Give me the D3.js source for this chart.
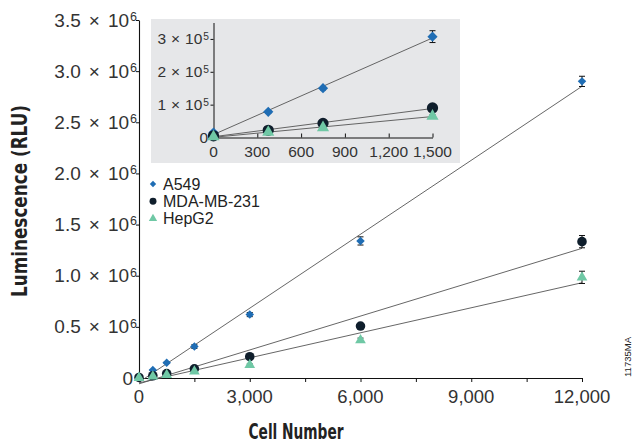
<!DOCTYPE html>
<html>
<head>
<meta charset="UTF-8">
<script src="https://d3js.org/d3.v7.min.js"></script>
<style>
  body { margin: 0; background: #fff; }
  text { font-family: "Liberation Sans", Arial, sans-serif; }
  .tick-label { fill: #333; }
  .title { font-family: "Liberation Sans Narrow", "DejaVu Sans Condensed", sans-serif; font-weight: bold; fill: #222; }
</style>
</head>
<body>
<svg width="637" height="444"></svg>
<script>
// cell numbers per well
const cells = [0, 375, 750, 1500, 3000, 6000, 12000];
// luminescence (RLU)
const a549 = [15000, 78000, 150000, 307000, 620000, 1340000, 2900000];
const mda = [5000, 22000, 43000, 90000, 208000, 508000, 1333000];
const hepg2 = [2000, 16000, 30000, 65000, 127000, 370000, 984000];
// standard deviations
const a549Err = [2000, 4000, 5000, 18000, 20000, 40000, 50000];
const mdaErr = [1000, 2000, 3000, 5000, 10000, 20000, 60000];
const hepg2Err = [1000, 2000, 3000, 4000, 10000, 20000, 60000];

const seriesNames = ["A549", "MDA-MB-231", "HepG2"];
const colors = ["#1f6db4", "#0f1e2c", "#6fc8a5"];
const shapes = [d3.symbolSquare, d3.symbolCircle, d3.symbolTriangle];

const mainXTicks = [0, 1500, 3000, 4500, 6000, 7500, 9000, 10500, 12000];
const mainXLabels = [0, 3000, 6000, 9000, 12000];
const mainYTicks = [0, 0.5e6, 1e6, 1.5e6, 2e6, 2.5e6, 3e6, 3.5e6];
const insetXTicks = [0, 300, 600, 900, 1200, 1500];
const insetYTicks = [0, 1e5, 2e5, 3e5];

const series = seriesNames.map((name, i) => ({
  name: name,
  color: colors[i],
  shape: shapes[i],
  values: [a549, mda, hepg2][i],
  errs: [a549Err, mdaErr, hepg2Err][i]
}));

const svg = d3.select("svg");
const fmt = d3.format(",");

// least squares line
function fit(xs, ys) {
  const mx = d3.mean(xs), my = d3.mean(ys);
  let sxy = 0, sxx = 0;
  xs.forEach((x, i) => { sxy += (x - mx) * (ys[i] - my); sxx += (x - mx) * (x - mx); });
  const slope = sxy / sxx;
  return { slope: slope, intercept: my - slope * mx };
}

// label like "2.5 × 10^6", gap = space around the ×
function sciLabel(sel, mant, exp, gap) {
  sel.append("tspan").text(mant);
  sel.append("tspan").attr("dx", gap).text("\u00d7");
  sel.append("tspan").attr("dx", gap).text("10");
  sel.append("tspan").attr("dx", 1).attr("dy", "-0.45em").attr("font-size", "0.66em").text(exp);
}

function marker(g, s, x, y, size) {
  g.append("path")
    .attr("d", d3.symbol().type(s.shape).size(size)())
    .attr("transform", `translate(${x},${y})` + (s.shape === d3.symbolSquare ? " rotate(45)" : ""))
    .attr("fill", s.color);
}

function drawPlot(g, x, y, nPts, sizes) {
  // fit lines
  series.forEach(s => {
    const xs = cells.slice(0, nPts), ys = s.values.slice(0, nPts);
    const f = fit(xs, ys);
    const x0 = xs[0], x1 = xs[xs.length - 1];
    g.append("line")
      .attr("x1", x(x0)).attr("y1", y(f.intercept + f.slope * x0))
      .attr("x2", x(x1)).attr("y2", y(f.intercept + f.slope * x1))
      .attr("stroke", "#555").attr("stroke-width", 0.9);
  });
  // error bars
  series.forEach(s => {
    for (let i = 0; i < nPts; i++) {
      const cx = x(cells[i]);
      const top = y(s.values[i] + s.errs[i]), bot = y(s.values[i] - s.errs[i]);
      g.append("line").attr("x1", cx).attr("x2", cx).attr("y1", top).attr("y2", bot)
        .attr("stroke", "#111").attr("stroke-width", 1);
      [top, bot].forEach(yy => g.append("line")
        .attr("x1", cx - 3).attr("x2", cx + 3).attr("y1", yy).attr("y2", yy)
        .attr("stroke", "#111").attr("stroke-width", 1));
    }
  });
  // markers
  series.forEach((s, k) => {
    for (let i = 0; i < nPts; i++) marker(g, s, x(cells[i]), y(s.values[i]), sizes[k]);
  });
}

// ---------- main chart ----------
const x = d3.scaleLinear().domain([0, 12000]).range([139, 582]);
const y = d3.scaleLinear().domain([0, 3.5e6]).range([378, 20]);

const main = svg.append("g");

const xAxis = main.append("g").attr("transform", `translate(0,${y(0)})`)
  .call(d3.axisBottom(x).tickValues(mainXTicks).tickSize(4).tickSizeOuter(0).tickFormat(""));
const yAxis = main.append("g").attr("transform", `translate(${x(0)},0)`)
  .call(d3.axisLeft(y).tickValues(mainYTicks).tickSize(3).tickSizeOuter(0).tickFormat(""));
[xAxis, yAxis].forEach(a => {
  a.select(".domain").attr("stroke", "#111").attr("stroke-width", 1.1);
  a.selectAll(".tick line").attr("stroke", "#111");
});

main.selectAll(".xl").data(mainXLabels).enter().append("text")
  .attr("class", "tick-label")
  .attr("x", d => x(d)).attr("y", 403)
  .attr("text-anchor", "middle").attr("font-size", 18.5)
  .text(d => fmt(d));

main.selectAll(".yl").data(mainYTicks).enter().append("text")
  .attr("class", "tick-label")
  .attr("x", 137).attr("y", d => y(d) + 6.5)
  .attr("text-anchor", "end").attr("font-size", 19)
  .each(function(d) {
    const t = d3.select(this);
    if (d === 0) t.attr("x", 133).text("0");
    else sciLabel(t, (d / 1e6).toFixed(1), "6", 8);
  });

// ---------- inset ----------
const inset = svg.append("g");
inset.append("rect").attr("x", 151).attr("y", 19).attr("width", 309).attr("height", 144)
  .attr("fill", "#e6e7e9");

const ix = d3.scaleLinear().domain([0, 1500]).range([213.5, 432.5]);
const iy = d3.scaleLinear().domain([0, 3.5e5]).range([137.5, 22.5]);

const ixAxis = inset.append("g").attr("transform", `translate(0,${iy(0)})`)
  .call(d3.axisTop(ix).tickValues(insetXTicks).tickSize(4).tickSizeOuter(0).tickFormat(""));
const iyAxis = inset.append("g").attr("transform", `translate(${ix(0)},0)`)
  .call(d3.axisLeft(iy).tickValues(insetYTicks).tickSize(3).tickSizeOuter(0).tickFormat(""));
[ixAxis, iyAxis].forEach(a => {
  a.select(".domain").attr("stroke", "#111").attr("stroke-width", 1);
  a.selectAll(".tick line").attr("stroke", "#111");
});

inset.selectAll(".ixl").data(insetXTicks).enter().append("text")
  .attr("class", "tick-label")
  .attr("x", d => ix(d)).attr("y", 157)
  .attr("text-anchor", "middle").attr("font-size", 15.5)
  .text(d => fmt(d));

inset.selectAll(".iyl").data(insetYTicks).enter().append("text")
  .attr("class", "tick-label")
  .attr("x", 209).attr("y", d => iy(d) + 5.5)
  .attr("text-anchor", "end").attr("font-size", 15.5)
  .each(function(d) {
    const t = d3.select(this);
    if (d === 0) t.attr("x", 208).text("0");
    else sciLabel(t, String(d / 1e5), "5", 5);
  });

drawPlot(inset, ix, iy, 4, [52, 100, 64]);
drawPlot(main, x, y, cells.length, [36, 72, 50]);

// ---------- legend ----------
const legend = svg.append("g");
series.forEach((s, i) => {
  const ly = 184 + i * 17.3;
  marker(legend, s, 153, ly, [20, 38, 30][i]);
  legend.append("text").attr("x", 163).attr("y", ly + 5.5)
    .attr("font-size", 16).attr("fill", "#222").text(s.name);
});

// ---------- titles ----------
svg.append("text").attr("class", "title")
  .attr("x", 296).attr("y", 439).attr("text-anchor", "middle").attr("font-size", 21)
  .attr("textLength", 95).attr("lengthAdjust", "spacingAndGlyphs")
  .text("Cell Number");
svg.append("text").attr("class", "title")
  .attr("transform", "translate(27,201) rotate(-90)").attr("text-anchor", "middle").attr("font-size", 21.5)
  .attr("textLength", 192).attr("lengthAdjust", "spacingAndGlyphs")
  .text("Luminescence (RLU)");
svg.append("text")
  .attr("transform", "translate(631,357) rotate(-90)").attr("text-anchor", "middle")
  .attr("font-size", 9.5).attr("fill", "#222").text("11735MA");
</script>
</body>
</html>
